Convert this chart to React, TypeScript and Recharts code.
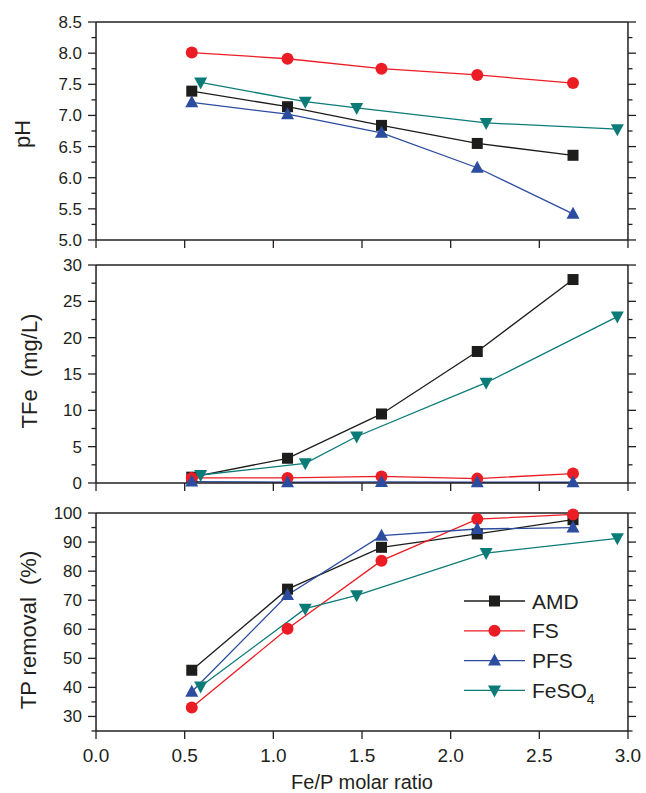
import { LineChart, Line, XAxis, YAxis, Legend } from "recharts";

// Fe/P molar ratio of each sample
const amdRatio = [0.54, 1.08, 1.61, 2.15, 2.69];
const fsRatio = [0.54, 1.08, 1.61, 2.15, 2.69];
const pfsRatio = [0.54, 1.08, 1.61, 2.15, 2.69];
const feso4Ratio = [0.59, 1.18, 1.47, 2.2, 2.94];

// pH
const amdPH = [7.39, 7.14, 6.84, 6.55, 6.36];
const fsPH = [8.01, 7.91, 7.75, 7.65, 7.52];
const pfsPH = [7.21, 7.02, 6.72, 6.16, 5.42];
const feso4PH = [7.53, 7.22, 7.12, 6.88, 6.78];

// TFe (mg/L)
const amdTFe = [0.8, 3.4, 9.5, 18.1, 28.0];
const fsTFe = [0.7, 0.7, 0.9, 0.6, 1.3];
const pfsTFe = [0.2, 0.1, 0.15, 0.1, 0.1];
const feso4TFe = [1.1, 2.7, 6.4, 13.8, 22.9];

// TP removal (%)
const amdTP = [45.9, 73.8, 88.2, 92.8, 97.7];
const fsTP = [33.1, 60.2, 83.6, 97.9, 99.5];
const pfsTP = [38.5, 71.8, 92.2, 94.5, 95.0];
const feso4TP = [40.3, 67.1, 71.7, 86.2, 91.3];

const xMajor = [0, 0.5, 1, 1.5, 2, 2.5, 3];
const xMinor = [0.25, 0.75, 1.25, 1.75, 2.25, 2.75];
const phMajor = [5, 5.5, 6, 6.5, 7, 7.5, 8, 8.5];
const phMinor = [5.25, 5.75, 6.25, 6.75, 7.25, 7.75, 8.25];
const tfeMajor = [0, 5, 10, 15, 20, 25, 30];
const tfeMinor = [2.5, 7.5, 12.5, 17.5, 22.5, 27.5];
const tpMajor = [30, 40, 50, 60, 70, 80, 90, 100];
const tpMinor = [25, 35, 45, 55, 65, 75, 85, 95];

const FONT = '"Liberation Sans", Arial, Helvetica, sans-serif';
const INK = "#231f20";
const W = 646;
const PLOT_H = 218;
const THIN = 0.01; // axes take (almost) no room; margins place the plot

const SERIES = [
  { name: "AMD", color: "#1d1d1b", shape: "square", x: amdRatio },
  { name: "FS", color: "#ec1c24", shape: "circle", x: fsRatio },
  { name: "PFS", color: "#2b4c9f", shape: "up", x: pfsRatio },
  { name: "FeSO4", color: "#0b7b77", shape: "down", x: feso4Ratio },
];

const toPoints = (xs: number[], ys: number[]) =>
  xs.map((x, i) => ({ x, y: ys[i] }));

function Marker({ shape, cx, cy, color }: any) {
  if (shape === "square")
    return <rect x={cx - 5.5} y={cy - 5.5} width={11} height={11} fill={color} />;
  if (shape === "circle") return <circle cx={cx} cy={cy} r={6} fill={color} />;
  if (shape === "up")
    return (
      <polygon
        points={`${cx},${cy - 7} ${cx + 6.5},${cy + 5} ${cx - 6.5},${cy + 5}`}
        fill={color}
      />
    );
  return (
    <polygon
      points={`${cx},${cy + 7} ${cx + 6.5},${cy - 5} ${cx - 6.5},${cy - 5}`}
      fill={color}
    />
  );
}

const noLabel = () => null;
const axisLine = { stroke: INK, strokeWidth: 1.5 };
const tickLine = { stroke: INK, strokeWidth: 1.3 };

function frame(
  yDomain: [number, number],
  yMajor: number[],
  yMinor: number[],
  yFmt: (v: number) => string,
  showX: boolean
) {
  return [
    <XAxis
      key="xb"
      xAxisId="x"
      type="number"
      dataKey="x"
      domain={[0, 3]}
      ticks={xMajor}
      interval={0}
      height={THIN}
      tickSize={8}
      tickMargin={10}
      axisLine={axisLine}
      tickLine={tickLine}
      tick={showX ? { fontSize: 19, fill: INK, fontFamily: FONT } : noLabel}
      tickFormatter={(v: number) => v.toFixed(1)}
      label={
        showX
          ? {
              value: "Fe/P molar ratio",
              position: "bottom",
              offset: 44,
              style: { fontSize: 20, fill: INK, fontFamily: FONT },
            }
          : undefined
      }
    />,
    <XAxis key="xbm" xAxisId="xbm" type="number" domain={[0, 3]} allowDataOverflow ticks={xMinor} interval={0} height={THIN} tickSize={4.5} axisLine={false} tickLine={tickLine} tick={noLabel} />,
    <XAxis key="xt" xAxisId="xt" orientation="top" type="number" domain={[0, 3]} allowDataOverflow ticks={xMajor} interval={0} height={THIN} tickSize={8} axisLine={axisLine} tickLine={tickLine} tick={noLabel} />,
    <XAxis key="xtm" xAxisId="xtm" orientation="top" type="number" domain={[0, 3]} allowDataOverflow ticks={xMinor} interval={0} height={THIN} tickSize={4.5} axisLine={false} tickLine={tickLine} tick={noLabel} />,
    <YAxis
      key="yl"
      yAxisId="y"
      type="number"
      domain={yDomain}
      ticks={yMajor}
      interval={0}
      width={THIN}
      tickSize={8}
      tickMargin={6}
      axisLine={axisLine}
      tickLine={tickLine}
      tick={{ fontSize: 17, fill: INK, fontFamily: FONT }}
      tickFormatter={yFmt}
    />,
    <YAxis key="ylm" yAxisId="ylm" type="number" domain={yDomain} allowDataOverflow ticks={yMinor} interval={0} width={THIN} tickSize={4.5} axisLine={false} tickLine={tickLine} tick={noLabel} />,
    <YAxis key="yr" yAxisId="yr" orientation="right" type="number" domain={yDomain} allowDataOverflow ticks={yMajor} interval={0} width={THIN} tickSize={8} axisLine={axisLine} tickLine={tickLine} tick={noLabel} />,
    <YAxis key="yrm" yAxisId="yrm" orientation="right" type="number" domain={yDomain} allowDataOverflow ticks={yMinor} interval={0} width={THIN} tickSize={4.5} axisLine={false} tickLine={tickLine} tick={noLabel} />,
  ];
}

function lines(values: number[][]) {
  return SERIES.map((s, k) => (
    <Line
      key={s.name}
      xAxisId="x"
      yAxisId="y"
      data={toPoints(s.x, values[k])}
      dataKey="y"
      name={s.name}
      stroke={s.color}
      strokeWidth={1.3}
      dot={(p: any) => (
        <Marker key={`${s.name}-${p.index}`} shape={s.shape} cx={p.cx} cy={p.cy} color={s.color} />
      )}
      activeDot={false}
      isAnimationActive={false}
    />
  ));
}

function yTitle(text: string, x: number, y: number) {
  return (
    <text
      x={x}
      y={y}
      transform={`rotate(-90 ${x} ${y})`}
      textAnchor="middle"
      fontSize={22}
      fill={INK}
      fontFamily={FONT}
      style={{ whiteSpace: "pre" }}
    >
      {text}
    </text>
  );
}

const renderLegend = () => (
  <svg width={180} height={125} style={{ display: "block", overflow: "visible" }}>
    {SERIES.map((s, i) => {
      const y = 15 + i * 29.8;
      return (
        <g key={s.name}>
          <line x1={6} x2={67} y1={y} y2={y} stroke={s.color} strokeWidth={1.3} />
          <Marker shape={s.shape} cx={36.5} cy={y} color={s.color} />
          <text x={74} y={y} dy="0.36em" fontSize={21} fill={INK} fontFamily={FONT}>
            {s.name === "FeSO4" ? (
              <>
                FeSO
                <tspan dy={6} fontSize={14}>4</tspan>
              </>
            ) : (
              s.name
            )}
          </text>
        </g>
      );
    })}
  </svg>
);

export default function App() {
  const margin = { top: 12, right: 18, left: 96, bottom: 12 };
  return (
    <div
      style={{
        position: "fixed",
        left: 0,
        top: 0,
        width: W,
        height: 793,
        fontFamily: FONT,
        background: "#fff",
      }}
    >
      <div style={{ position: "absolute", left: 0, top: 10 }}>
        <LineChart width={W} height={PLOT_H + 24} margin={margin}>
          {frame([5, 8.5], phMajor, phMinor, (v) => v.toFixed(1), false)}
          {lines([amdPH, fsPH, pfsPH, feso4PH])}
          {yTitle("pH", 30, 124)}
        </LineChart>
      </div>
      <div style={{ position: "absolute", left: 0, top: 253 }}>
        <LineChart width={W} height={PLOT_H + 24} margin={margin}>
          {frame([0, 30], tfeMajor, tfeMinor, (v) => String(v), false)}
          {lines([amdTFe, fsTFe, pfsTFe, feso4TFe])}
          {yTitle("TFe  (mg/L)", 37, 118)}
        </LineChart>
      </div>
      <div style={{ position: "absolute", left: 0, top: 501 }}>
        <LineChart width={W} height={292} margin={{ ...margin, bottom: 62 }}>
          {frame([25, 100], tpMajor, tpMinor, (v) => String(v), true)}
          {lines([amdTP, fsTP, pfsTP, feso4TP])}
          {yTitle("TP removal  (%)", 36, 129)}
          <Legend
            layout="vertical"
            align="center"
            verticalAlign="middle"
            content={renderLegend}
            wrapperStyle={{ left: 458, top: 85, width: 180, height: 125 }}
          />
        </LineChart>
      </div>
    </div>
  );
}
